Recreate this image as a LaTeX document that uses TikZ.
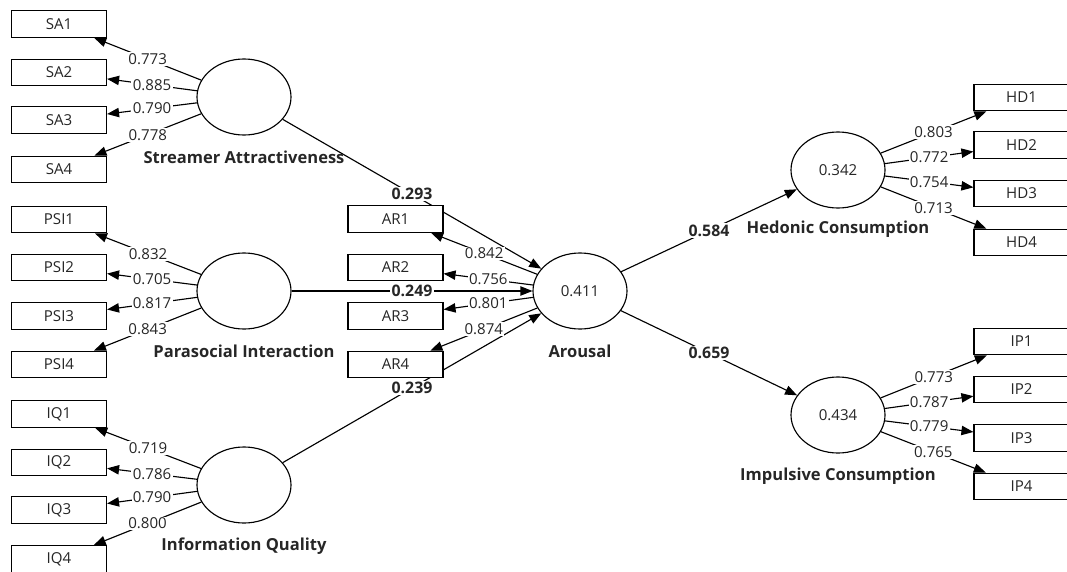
\documentclass[tikz,border=0pt]{standalone}
\usepackage{fontspec}
\setmainfont{Open Sans}
\usetikzlibrary{arrows.meta,shapes.geometric,backgrounds}
\begin{document}
\begin{tikzpicture}[x=0.75pt,y=-0.75pt,
  every node/.style={font=\fontsize{11.3}{13}\selectfont,text=black!85},
  ind/.style={draw,fill=white,line width=0.85pt,minimum width=71.25pt,minimum height=20pt,inner sep=0pt},
  lv/.style={draw,fill=white,ellipse,line width=0.85pt,minimum width=70.5pt,minimum height=57pt,inner sep=0pt},
  lvname/.style={font=\fontsize{12.4}{14}\selectfont\bfseries},
  ld/.style={line width=0.85pt,-{Triangle[length=9pt,width=7pt]}},
  wl/.style={fill=white,inner sep=1pt},
  pc/.style={fill=white,inner sep=1pt,font=\fontsize{11.9}{14}\selectfont\bfseries}
]
\useasboundingbox (0,0) rectangle (1067,571);
\clip (0,0) rectangle (1067,571);

% latent variables
\node[lv] (sa) at (244,97) {};
\node[lv] (psi) at (244,291) {};
\node[lv] (iq) at (244,485) {};
\node[lv] (ar) at (580,291) {0.411};
\node[lv] (hd) at (838,170) {0.342};
\node[lv] (ip) at (838,415) {0.434};

\node[lvname] (saname) at (244,157) {Streamer Attractiveness};
\node[lvname] (psiname) at (244,351) {Parasocial Interaction};
\node[lvname] (iqname) at (244,546) {Information Quality};
\node[lvname] (arname) at (580,351) {Arousal};
\node[lvname] (hdname) at (838,229) {Hedonic Consumption};
\node[lvname] (ipname) at (838,476) {Impulsive Consumption};

% indicators
\node[ind] (sa1) at (59,24) {SA1};
\node[ind] (sa2) at (59,72.5) {SA2};
\node[ind] (sa3) at (59,120) {SA3};
\node[ind] (sa4) at (59,169.5) {SA4};
\node[ind] (psi1) at (59,219.5) {PSI1};
\node[ind] (psi2) at (59,267.5) {PSI2};
\node[ind] (psi3) at (59,316) {PSI3};
\node[ind] (psi4) at (59,364.5) {PSI4};
\node[ind] (iq1) at (59,414) {IQ1};
\node[ind] (iq2) at (59,462.5) {IQ2};
\node[ind] (iq3) at (59,510) {IQ3};
\node[ind] (iq4) at (59,559) {IQ4};
\node[ind] (ar1) at (395.5,219) {AR1};
\node[ind] (ar2) at (395.5,267.5) {AR2};
\node[ind] (ar3) at (395.5,316) {AR3};
\node[ind] (ar4) at (395.5,364.5) {AR4};
\node[ind] (hd1) at (1021.5,97.5) {HD1};
\node[ind] (hd2) at (1021.5,145) {HD2};
\node[ind] (hd3) at (1021.5,193.5) {HD3};
\node[ind] (hd4) at (1021.5,242.5) {HD4};
\node[ind] (ip1) at (1021.5,341.5) {IP1};
\node[ind] (ip2) at (1021.5,389.5) {IP2};
\node[ind] (ip3) at (1021.5,438) {IP3};
\node[ind] (ip4) at (1021.5,486.5) {IP4};

% outer loadings
\draw[ld] (sa) -- node[wl]{0.773} (sa1);
\draw[ld] (sa) -- node[wl]{0.885} (sa2);
\draw[ld] (sa) -- node[wl]{0.790} (sa3);
\draw[ld] (sa) -- node[wl]{0.778} (sa4);
\draw[ld] (psi) -- node[wl]{0.832} (psi1);
\draw[ld] (psi) -- node[wl]{0.705} (psi2);
\draw[ld] (psi) -- node[wl]{0.817} (psi3);
\draw[ld] (psi) -- node[wl]{0.843} (psi4);
\draw[ld] (iq) -- node[wl]{0.719} (iq1);
\draw[ld] (iq) -- node[wl]{0.786} (iq2);
\draw[ld] (iq) -- node[wl]{0.790} (iq3);
\draw[ld] (iq) -- node[wl]{0.800} (iq4);
\draw[ld] (ar) -- node[wl]{0.842} (ar1);
\draw[ld] (ar) -- node[wl]{0.756} (ar2);
\draw[ld] (ar) -- node[wl]{0.801} (ar3);
\draw[ld] (ar) -- node[wl]{0.874} (ar4);
\draw[ld] (hd) -- node[wl]{0.803} (hd1);
\draw[ld] (hd) -- node[wl]{0.772} (hd2);
\draw[ld] (hd) -- node[wl]{0.754} (hd3);
\draw[ld] (hd) -- node[wl]{0.713} (hd4);
\draw[ld] (ip) -- node[wl]{0.773} (ip1);
\draw[ld] (ip) -- node[wl]{0.787} (ip2);
\draw[ld] (ip) -- node[wl]{0.779} (ip3);
\draw[ld] (ip) -- node[wl]{0.765} (ip4);

% structural paths
\begin{scope}[on background layer]
\draw[ld] (sa) -- node[pc]{0.293} (ar);
\draw[ld] (psi) -- node[pc]{0.249} (ar);
\draw[ld] (iq) -- node[pc]{0.239} (ar);
\draw[ld] (ar) -- node[pc]{0.584} (hd);
\draw[ld] (ar) -- node[pc]{0.659} (ip);
\end{scope}
\end{tikzpicture}
\end{document}
